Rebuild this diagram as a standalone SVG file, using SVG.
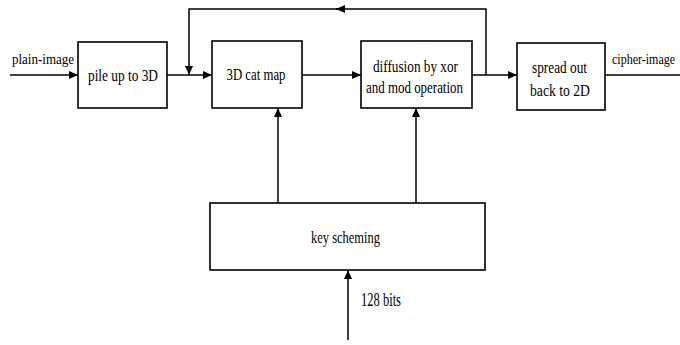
<svg xmlns="http://www.w3.org/2000/svg" width="680" height="345" viewBox="0 0 680 345">
  <style>
    .box { fill: #fff; stroke: #000; stroke-width: 1.6; }
    .wire { fill: none; stroke: #000; stroke-width: 1.5; }
    .t { font-family: "Liberation Serif", "Times New Roman", serif; fill: #000; }
    .c { text-anchor: middle; font-size: 16px; }
    .lbl { font-size: 15px; }
  </style>
  <defs>
    <marker id="arrow" viewBox="0 0 9 8" refX="9" refY="4" markerWidth="9" markerHeight="8" markerUnits="userSpaceOnUse" orient="auto">
      <path d="M0,0 L9,4 L0,8 Z" fill="#000"/>
    </marker>
  </defs>
  <rect width="680" height="345" fill="#fff"/>

  <g id="connectors">
    <path class="wire" d="M10,75 H78" marker-end="url(#arrow)"/>
    <path class="wire" d="M167,75 H212" marker-end="url(#arrow)"/>
    <path class="wire" d="M302,75 H361" marker-end="url(#arrow)"/>
    <path class="wire" d="M472,75 H517" marker-end="url(#arrow)"/>
    <path class="wire" d="M605,75 H680"/>
    <!-- feedback loop: diffusion output back to the cat map input -->
    <path class="wire" d="M486,75 V9 H336" marker-end="url(#arrow)"/>
    <path class="wire" d="M338,9 H189 V75" marker-end="url(#arrow)"/>
    <!-- round keys into both stages -->
    <path class="wire" d="M278,203 V108" marker-end="url(#arrow)"/>
    <path class="wire" d="M416,203 V108" marker-end="url(#arrow)"/>
    <path class="wire" d="M348,340 V270" marker-end="url(#arrow)"/>
    <text class="t lbl" x="12" y="64" textLength="62" lengthAdjust="spacingAndGlyphs">plain-image</text>
    <!-- condensed horizontally so it stays inside the right edge -->
    <text class="t lbl" transform="translate(612,64) scale(0.8,1)" x="0" y="0">cipher-image</text>
    <text class="t" x="361" y="306" font-size="18" textLength="40" lengthAdjust="spacingAndGlyphs">128 bits</text>
  </g>

  <g id="pile">
    <rect class="box" x="78" y="42" width="89" height="66"/>
    <text class="t c" x="123" y="81" textLength="70" lengthAdjust="spacingAndGlyphs">pile up to 3D</text>
  </g>
  <g id="catmap">
    <rect class="box" x="212" y="41" width="90" height="67"/>
    <text class="t c" x="256" y="80" textLength="59" lengthAdjust="spacingAndGlyphs">3D cat map</text>
  </g>
  <g id="diffusion">
    <rect class="box" x="361" y="41" width="111" height="67"/>
    <text class="t c" x="415.5" y="72" textLength="85" lengthAdjust="spacingAndGlyphs">diffusion by xor</text>
    <text class="t c" x="414.5" y="93" textLength="97" lengthAdjust="spacingAndGlyphs">and mod operation</text>
  </g>
  <g id="spread">
    <rect class="box" x="517" y="43" width="88" height="67"/>
    <text class="t c" x="559.5" y="73" textLength="55" lengthAdjust="spacingAndGlyphs">spread out</text>
    <text class="t c" x="560" y="96" textLength="60" lengthAdjust="spacingAndGlyphs">back to 2D</text>
  </g>
  <g id="key">
    <rect class="box" x="210" y="203" width="275" height="67"/>
    <text class="t c" x="345.5" y="243" textLength="69" lengthAdjust="spacingAndGlyphs">key scheming</text>
  </g>
</svg>
